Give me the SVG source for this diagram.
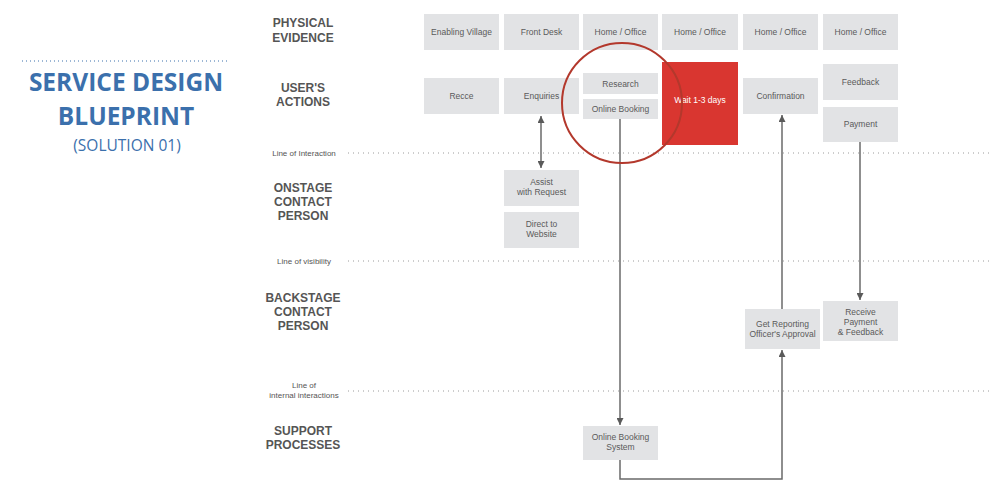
<svg xmlns="http://www.w3.org/2000/svg" width="1000" height="492" viewBox="0 0 1000 492">
<defs>
<style>
.box{fill:#e2e3e5}
.bt{font-family:"Liberation Sans",Arial,sans-serif;font-size:8.5px;fill:#5a5a5a;text-anchor:middle}
.lane{font-family:"Liberation Sans",Arial,sans-serif;font-size:12px;font-weight:bold;fill:#555;text-anchor:middle}
.ln{font-family:"Liberation Sans",Arial,sans-serif;font-size:8px;fill:#555;text-anchor:middle}
.dot{stroke:#9a9a9a;stroke-width:1;stroke-dasharray:1 4}
.con{fill:none;stroke:#6a6a6a;stroke-width:1.5}
.title{font-family:"Open Sans",sans-serif;font-weight:bold;font-size:24.5px;fill:#3b70ac;text-anchor:middle}
</style>
<marker id="ah" viewBox="0 0 10 10" refX="10" refY="5" markerWidth="7" markerHeight="7" orient="auto-start-reverse" markerUnits="userSpaceOnUse"><path d="M0,0 L10,5 L0,10 z" fill="#5a5a5a"/></marker>
</defs>
<rect width="1000" height="492" fill="#fff"/>

<g id="title">
<line x1="22" y1="61" x2="230" y2="61" stroke="#3b70ac" stroke-width="1" stroke-dasharray="1 3"/>
<text class="title" x="126" y="91">SERVICE DESIGN</text>
<text class="title" x="126" y="125">BLUEPRINT</text>
<text x="127" y="151" font-family="Open Sans,sans-serif" font-size="15.5px" fill="#3b70ac" text-anchor="middle">(SOLUTION 01)</text>
</g>

<g id="lanes">
<text class="lane" x="303" y="27">PHYSICAL</text>
<text class="lane" x="303" y="42">EVIDENCE</text>
<text class="lane" x="303" y="92">USER'S</text>
<text class="lane" x="303" y="106">ACTIONS</text>
<text class="lane" x="303" y="192">ONSTAGE</text>
<text class="lane" x="303" y="206">CONTACT</text>
<text class="lane" x="303" y="220">PERSON</text>
<text class="lane" x="303" y="302">BACKSTAGE</text>
<text class="lane" x="303" y="316">CONTACT</text>
<text class="lane" x="303" y="330">PERSON</text>
<text class="lane" x="303" y="435">SUPPORT</text>
<text class="lane" x="303" y="449">PROCESSES</text>
</g>

<g id="lines">
<text class="ln" x="304" y="156">Line of Interaction</text>
<line class="dot" x1="348" y1="153" x2="990" y2="153"/>
<text class="ln" x="304" y="264">Line of visibility</text>
<line class="dot" x1="348" y1="261" x2="990" y2="261"/>
<text class="ln" x="304" y="388">Line of</text>
<text class="ln" x="304" y="398">internal interactions</text>
<line class="dot" x1="348" y1="391" x2="990" y2="391"/>
</g>

<g id="n-enabling"><rect class="box" x="424" y="14" width="75" height="36"/><text class="bt" x="461.5" y="35">Enabling Village</text></g>
<g id="n-frontdesk"><rect class="box" x="504" y="14" width="75" height="36"/><text class="bt" x="541.5" y="35">Front Desk</text></g>
<g id="n-home1"><rect class="box" x="583" y="14" width="75" height="36"/><text class="bt" x="620.5" y="35">Home / Office</text></g>
<g id="n-home2"><rect class="box" x="662" y="14" width="76" height="36"/><text class="bt" x="700" y="35">Home / Office</text></g>
<g id="n-home3"><rect class="box" x="743" y="14" width="75" height="36"/><text class="bt" x="780.5" y="35">Home / Office</text></g>
<g id="n-home4"><rect class="box" x="823" y="14" width="75" height="36"/><text class="bt" x="860.5" y="35">Home / Office</text></g>

<g id="n-recce"><rect class="box" x="424" y="78" width="75" height="36"/><text class="bt" x="461.5" y="99">Recce</text></g>
<g id="n-enquiries"><rect class="box" x="504" y="78" width="75" height="36"/><text class="bt" x="541.5" y="99">Enquiries</text></g>
<g id="n-research"><rect class="box" x="583" y="73" width="75" height="21"/><text class="bt" x="620.5" y="87">Research</text></g>
<g id="n-onlinebooking"><rect class="box" x="583" y="99" width="75" height="20"/><text class="bt" x="620.5" y="112">Online Booking</text></g>
<g id="n-wait"><rect x="662" y="62" width="76" height="83" fill="#d93630"/><text class="bt" x="700" y="103" style="fill:#fff">Wait 1-3 days</text></g>
<g id="n-confirmation"><rect class="box" x="743" y="78" width="75" height="36"/><text class="bt" x="780.5" y="99">Confirmation</text></g>
<g id="n-feedback"><rect class="box" x="823" y="64" width="75" height="36"/><text class="bt" x="860.5" y="85">Feedback</text></g>
<g id="n-payment"><rect class="box" x="823" y="107" width="75" height="35"/><text class="bt" x="860.5" y="127">Payment</text></g>

<g id="n-assist"><rect class="box" x="504" y="170" width="75" height="36"/><text class="bt" x="541.5" y="185">Assist</text><text class="bt" x="541.5" y="195">with Request</text></g>
<g id="n-direct"><rect class="box" x="504" y="212" width="75" height="36"/><text class="bt" x="541.5" y="227">Direct to</text><text class="bt" x="541.5" y="237">Website</text></g>

<g id="n-approval"><rect class="box" x="745" y="309" width="75" height="40"/><text class="bt" x="782.5" y="327">Get Reporting</text><text class="bt" x="782.5" y="337">Officer's Approval</text></g>
<g id="n-receive"><rect class="box" x="823" y="301" width="75" height="40"/><text class="bt" x="860.5" y="315">Receive</text><text class="bt" x="860.5" y="325">Payment</text><text class="bt" x="860.5" y="335">&amp; Feedback</text></g>

<g id="n-obs"><rect class="box" x="583" y="426" width="75" height="34"/><text class="bt" x="620.5" y="440">Online Booking</text><text class="bt" x="620.5" y="450">System</text></g>

<g id="connectors">
<line class="con" x1="541" y1="116" x2="541" y2="168" marker-start="url(#ah)" marker-end="url(#ah)"/>
<line class="con" x1="620" y1="119" x2="620" y2="425" marker-end="url(#ah)"/>
<polyline class="con" points="620,460 620,479 782,479 782,350" marker-end="url(#ah)"/>
<line class="con" x1="782" y1="309" x2="782" y2="115" marker-end="url(#ah)"/>
<line class="con" x1="860" y1="142" x2="860" y2="300" marker-end="url(#ah)"/>
</g>

<g id="highlight">
<circle cx="622" cy="103" r="60" fill="none" stroke="#b3382c" stroke-width="2"/>
</g>
</svg>
